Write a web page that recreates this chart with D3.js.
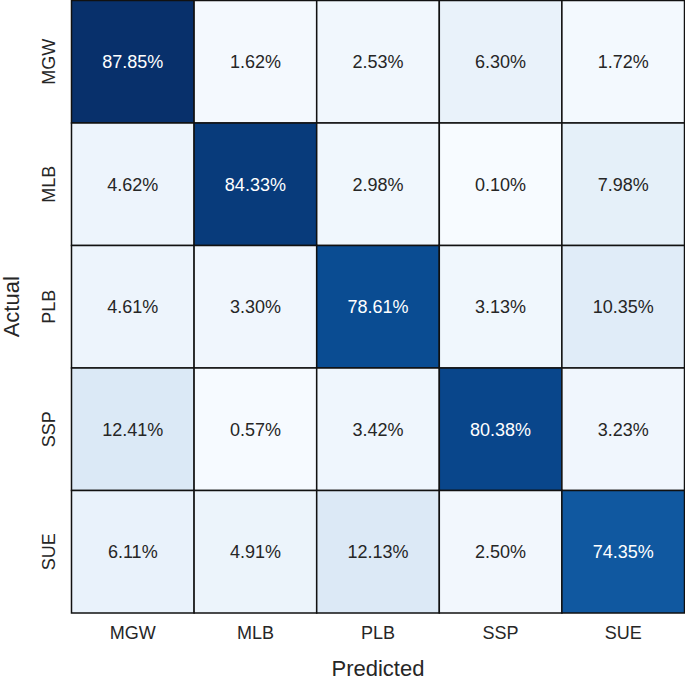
<!DOCTYPE html>
<html>
<head>
<meta charset="utf-8">
<script src="https://cdn.jsdelivr.net/npm/d3@7"></script>
<style>
  body { margin: 0; background: #fff; }
  text { font-family: "Liberation Sans", Arial, sans-serif; }
</style>
</head>
<body>
<div id="chart"></div>
<script>
// Class labels (rows = actual, columns = predicted)
const classes = ["MGW", "MLB", "PLB", "SSP", "SUE"];

// Percentages per actual class
const rowMGW = [87.85, 1.62, 2.53, 6.30, 1.72];
const rowMLB = [4.62, 84.33, 2.98, 0.10, 7.98];
const rowPLB = [4.61, 3.30, 78.61, 3.13, 10.35];
const rowSSP = [12.41, 0.57, 3.42, 80.38, 3.23];
const rowSUE = [6.11, 4.91, 12.13, 2.50, 74.35];
const matrix = [rowMGW, rowMLB, rowPLB, rowSSP, rowSUE];

const W = 685, H = 680;
let margin = {top: 0.5, right: 0.5, bottom: 67, left: 71.5},
    width = W - margin.left - margin.right,
    height = 613 - margin.top;

let svg = d3.select("#chart")
    .append("svg")
    .attr("width", W)
    .attr("height", H)
    .append("g")
    .attr("transform", "translate(" + margin.left + "," + margin.top + ")");

// flatten into cells
let cells = [];
matrix.forEach(function(row, i) {
    row.forEach(function(v, j) {
        cells.push({actual: classes[i], predicted: classes[j], value: v});
    });
});

let all = cells.map(function(d) { return d.value; });
let color = d3.scaleSequential(d3.interpolateBlues)
    .domain([d3.min(all), d3.max(all)]);

let x = d3.scaleBand().domain(classes).range([0, width]);
let y = d3.scaleBand().domain(classes).range([0, height]);

// Cells
svg.selectAll("rect.cell")
    .data(cells)
    .enter()
    .append("rect")
    .attr("class", "cell")
    .attr("x", function(d) { return x(d.predicted); })
    .attr("y", function(d) { return y(d.actual); })
    .attr("width", x.bandwidth())
    .attr("height", y.bandwidth())
    .attr("fill", function(d) { return color(d.value); })
    .attr("stroke", "#111")
    .attr("stroke-width", 1.5);

// Annotations
let mid = (d3.min(all) + d3.max(all)) / 2;
svg.selectAll("text.val")
    .data(cells)
    .enter()
    .append("text")
    .attr("class", "val")
    .attr("x", function(d) { return x(d.predicted) + x.bandwidth() / 2; })
    .attr("y", function(d) { return y(d.actual) + y.bandwidth() / 2; })
    .attr("dy", "0.35em")
    .attr("text-anchor", "middle")
    .style("font-size", "18px")
    .attr("fill", function(d) { return d.value > mid ? "#ffffff" : "#262626"; })
    .text(function(d) { return d.value.toFixed(2) + "%"; });

// X axis
let xAxis = svg.append("g")
    .attr("transform", "translate(0," + height + ")")
    .call(d3.axisBottom(x).tickSize(0).tickPadding(13));
xAxis.select(".domain").remove();
xAxis.selectAll("text")
    .style("font-size", "18px")
    .attr("fill", "#262626");

// Y axis
let yAxis = svg.append("g")
    .call(d3.axisLeft(y).tickSize(0).tickPadding(0));
yAxis.select(".domain").remove();
yAxis.selectAll("text")
    .style("font-size", "18px")
    .attr("fill", "#262626")
    .attr("text-anchor", "middle")
    .attr("transform", "translate(-17,0) rotate(-90)")
    .attr("x", 0)
    .attr("dy", "0");

// Axis titles
svg.append("text")
    .attr("x", width / 2)
    .attr("y", 676 - margin.top)
    .attr("text-anchor", "middle")
    .style("font-size", "22px")
    .attr("fill", "#262626")
    .text("Predicted");

svg.append("text")
    .attr("transform", "translate(" + (18.5 - margin.left) + "," + (height / 2) + ") rotate(-90)")
    .attr("text-anchor", "middle")
    .style("font-size", "22px")
    .attr("fill", "#262626")
    .text("Actual");
</script>
</body>
</html>
